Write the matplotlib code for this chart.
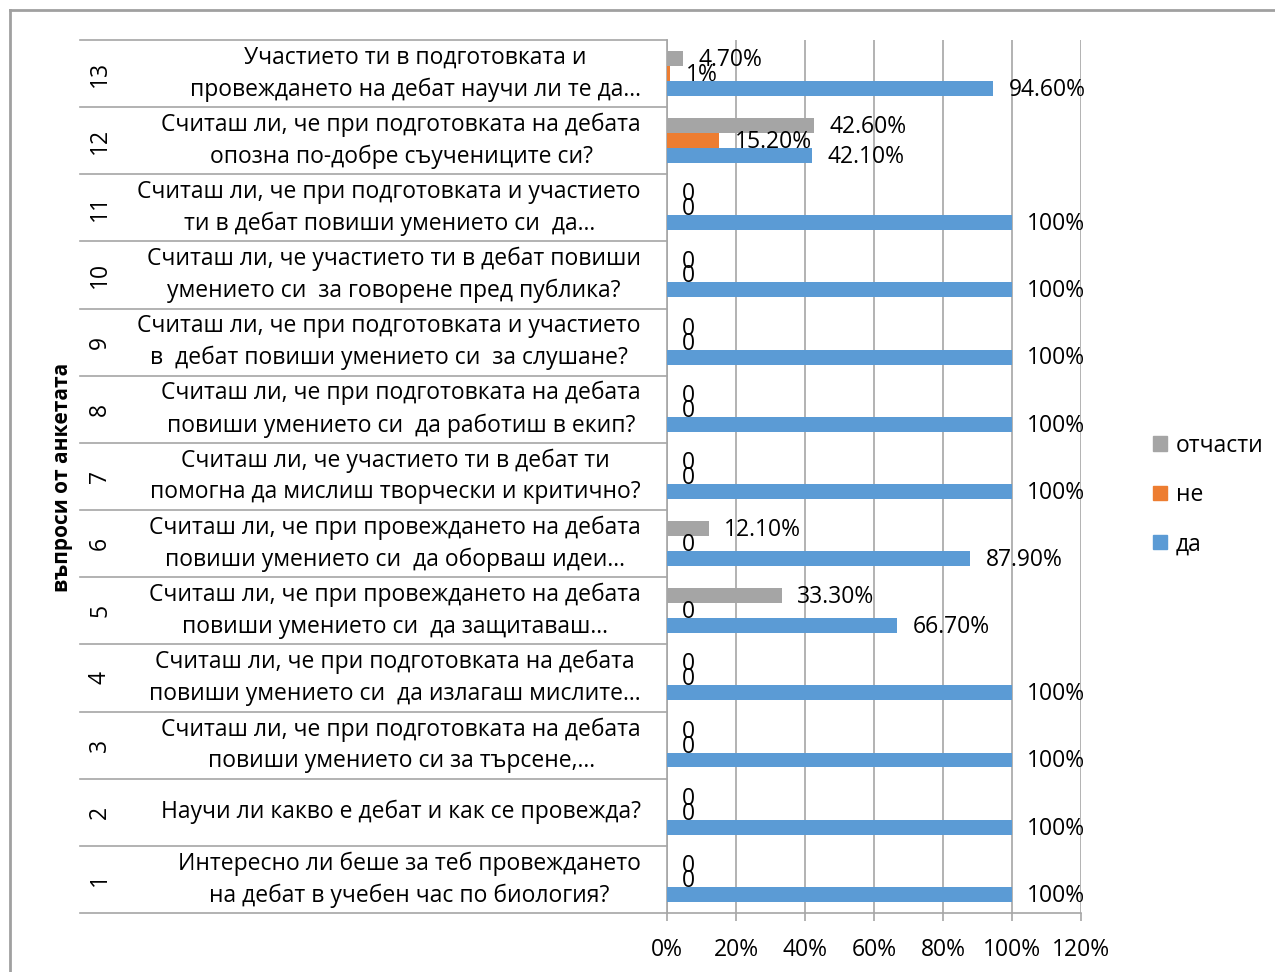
import matplotlib
matplotlib.use("Agg")
import matplotlib.pyplot as plt
from matplotlib.patches import Patch
from matplotlib.transforms import blended_transform_factory
import numpy as np

plt.rcParams["font.family"] = ["Open Sans", "DejaVu Sans"]

# categories bottom -> top (1..13)
numbers = [str(i) for i in range(1, 14)]
questions = [
    "Интересно ли беше за теб провеждането\nна дебат в учебен час по биология?",
    "Научи ли какво е дебат и как се провежда?",
    "Считаш ли, че при подготовката на дебата\nповиши умението си за търсене,…",
    "Считаш ли, че при подготовката на дебата\nповиши умението си  да излагаш мислите…",
    "Считаш ли, че при провеждането на дебата\nповиши умението си  да защитаваш…",
    "Считаш ли, че при провеждането на дебата\nповиши умението си  да оборваш идеи…",
    "Считаш ли, че участието ти в дебат ти\nпомогна да мислиш творчески и критично?",
    "Считаш ли, че при подготовката на дебата\nповиши умението си  да работиш в екип?",
    "Считаш ли, че при подготовката и участието\nв  дебат повиши умението си  за слушане?",
    "Считаш ли, че участието ти в дебат повиши\nумението си  за говорене пред публика?",
    "Считаш ли, че при подготовката и участието\nти в дебат повиши умението си  да…",
    "Считаш ли, че при подготовката на дебата\nопозна по-добре съучениците си?",
    "Участието ти в подготовката и\nпровеждането на дебат научи ли те да…",
]
da = [100, 100, 100, 100, 66.7, 87.9, 100, 100, 100, 100, 100, 42.1, 94.6]
ne = [0, 0, 0, 0, 0, 0, 0, 0, 0, 0, 0, 15.2, 1]
otchasti = [0, 0, 0, 0, 33.3, 12.1, 0, 0, 0, 0, 0, 42.6, 4.7]
xticks = [0, 20, 40, 60, 80, 100, 120]

GRAY, ORANGE, BLUE = "#A5A5A5", "#ED7D31", "#5B9BD5"
LINE = "#A6A6A6"
FS = 16.5

W, H = 1275, 972
fig = plt.figure(figsize=(W / 100, H / 100), dpi=100)
ax = fig.add_axes([667 / W, (H - 913) / H, (1081 - 667) / W, (913 - 40) / H])


def fmt(v):
    if v == 0:
        return "0"
    if float(v).is_integer():
        return f"{int(v)}%"
    return f"{v:.2f}%"


y = np.arange(len(numbers))
bh = 0.222
series = [(otchasti, GRAY, bh), (ne, ORANGE, 0.0), (da, BLUE, -bh)]
for vals, col, off in series:
    ax.barh(y + off, vals, height=bh, color=col, zorder=3)
    for yi, v in zip(y, vals):
        ax.annotate(fmt(v), (v, yi + off), xytext=(11, -1),
                    textcoords="offset points", ha="left", va="center",
                    fontsize=FS, color="black", zorder=4, annotation_clip=False)

ax.set_xlim(0, 120)
ax.set_ylim(-0.5, len(numbers) - 0.5)
ax.set_xticks(xticks)
ax.set_xticklabels([f"{t}%" for t in xticks], fontsize=FS)
ax.set_yticks([])
ax.xaxis.grid(True, color=LINE, linewidth=1.2, zorder=0)
ax.tick_params(axis="x", length=6, color=LINE, width=1.2, pad=12)
for s in ["top", "right"]:
    ax.spines[s].set_visible(False)
for s in ["left", "bottom"]:
    ax.spines[s].set_color(LINE)
    ax.spines[s].set_linewidth(1.2)

# category table on the left
tr = blended_transform_factory(fig.transFigure, ax.transData)
for k in range(len(numbers) + 1):
    ax.plot([80 / W, 667 / W], [k - 0.5, k - 0.5], transform=tr,
            color=LINE, linewidth=1.2, clip_on=False)
for yi, num, q in zip(y, numbers, questions):
    ax.text(100 / W, yi, num, transform=tr, rotation=90, ha="center",
            va="center", fontsize=FS)
    ax.text(641 / W, yi, q, transform=tr, ha="right", va="center",
            multialignment="center", fontsize=FS, linespacing=1.42)

fig.text(63 / W, (H - 477) / H, "въпроси от анкетата", rotation=90,
         ha="center", va="center", fontsize=15, fontweight="bold")

handles = [Patch(color=GRAY), Patch(color=ORANGE), Patch(color=BLUE)]
fig.legend(handles, ["отчасти", "не", "да"], loc="center left",
           bbox_to_anchor=(1153 / W, (H - 495) / H), frameon=False,
           fontsize=FS, handlelength=0.6, handleheight=0.6,
           handletextpad=0.4, labelspacing=1.1, borderpad=0, borderaxespad=0)

# outer chart border (top and left edges visible)
fig.add_artist(plt.Line2D([10 / W, 1], [1 - 10 / H, 1 - 10 / H],
                          transform=fig.transFigure, color="#A0A0A0", linewidth=2))
fig.add_artist(plt.Line2D([10 / W, 10 / W], [0, 1 - 10 / H],
                          transform=fig.transFigure, color="#A0A0A0", linewidth=2))

fig.savefig("out.png", dpi=100)
